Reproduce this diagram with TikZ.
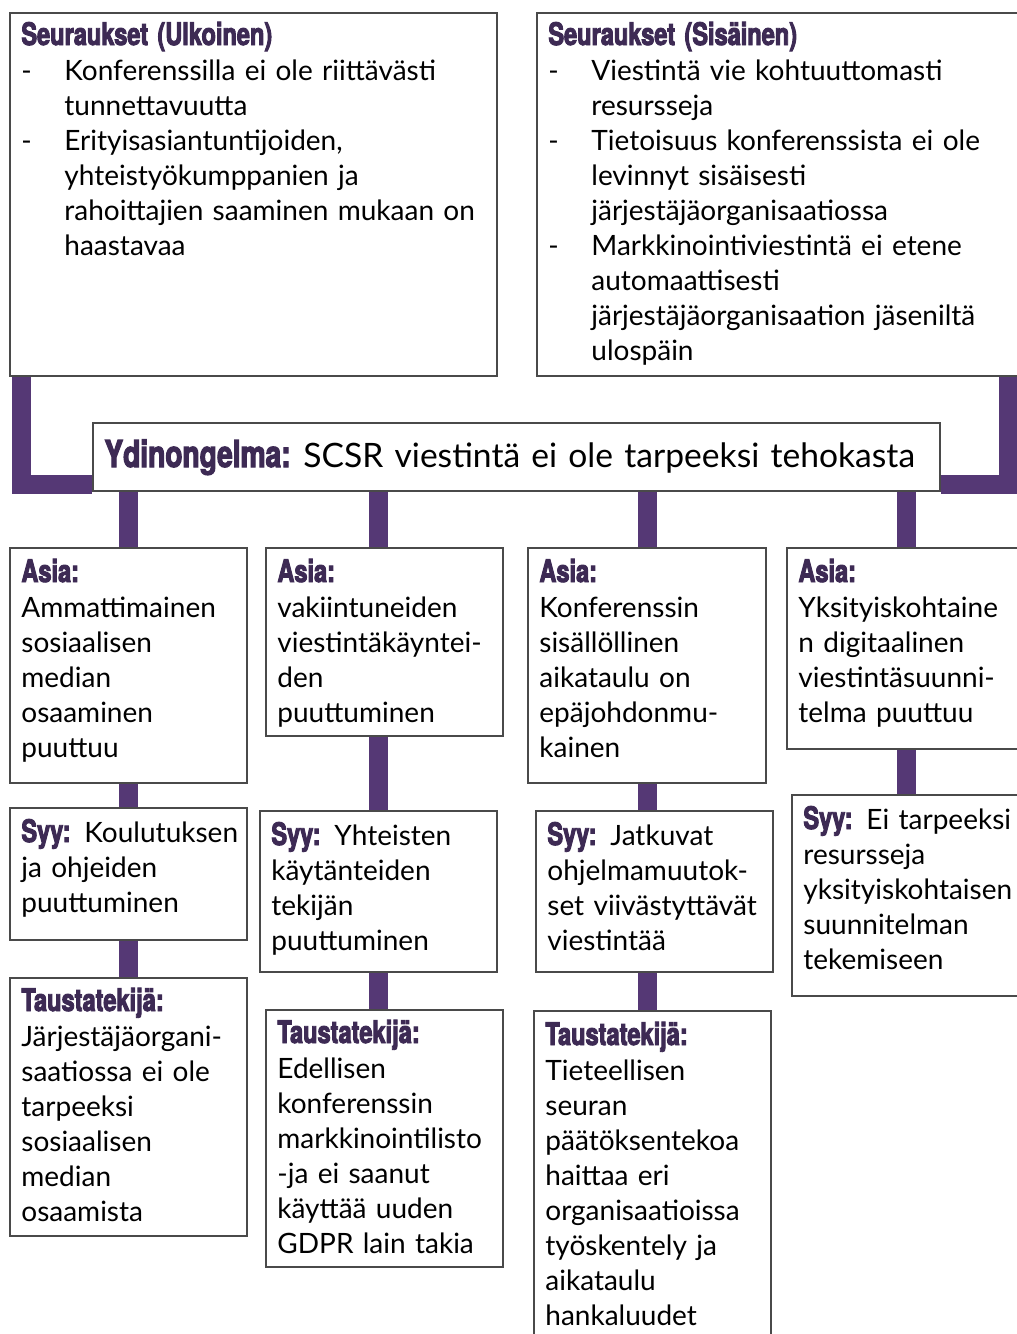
\documentclass[tikz,border=0pt]{standalone}
\usepackage{fontspec}
\setmainfont{Lato}
\newfontfamily\headfont[FakeStretch=0.76,BoldFeatures={FakeBold=3}]{TeX Gyre Heros}
\usetikzlibrary{fit,backgrounds}

\definecolor{linkpurple}{HTML}{553875}
\definecolor{headpurple}{HTML}{3D2A54}
\definecolor{boxgray}{HTML}{4A4A4A}

\newcommand{\hd}[1]{{\headfont\bfseries\fontsize{15.5}{17.5}\selectfont\color{headpurple}#1}}
\newcommand{\bul}{\makebox[21.5pt][l]{-}}
\newcommand{\ind}{\hspace*{21.5pt}}

\begin{document}
\begin{tikzpicture}[x=0.5pt,y=-0.5pt,
  box/.style={draw=boxgray, line width=1pt, fill=white, inner sep=0pt},
  txt/.style={anchor=base west, inner sep=0pt, text width=260pt, align=left,
    font=\fontsize{14}{17.5}\selectfont},
  link/.style={draw=linkpurple, line width=9.5pt}]
  \clip (0,0) rectangle (1017,1334);

  % seuraukset
  \node[box, fit={(10,13) (497,376)}] (u) {};
  \node[txt] at ([shift={(12,33)}]u.north west) {\hd{Seuraukset (Ulkoinen)}\\
    \bul Konferenssilla ei ole riittävästi\\
    \ind tunnettavuutta\\
    \bul Erityisasiantuntijoiden,\\
    \ind yhteistyökumppanien ja\\
    \ind rahoittajien saaminen mukaan on\\
    \ind haastavaa};
  \node[box, fit={(537,13) (1022,376)}] (s) {};
  \node[txt] at ([shift={(12,33)}]s.north west) {\hd{Seuraukset (Sisäinen)}\\
    \bul Viestintä vie kohtuuttomasti\\
    \ind resursseja\\
    \bul Tietoisuus konferenssista ei ole\\
    \ind levinnyt sisäisesti\\
    \ind järjestäjäorganisaatiossa\\
    \bul Markkinointiviestintä ei etene\\
    \ind automaattisesti\\
    \ind järjestäjäorganisaation jäseniltä\\
    \ind ulospäin};

  % ydinongelma
  \node[box, fit={(93,423) (940,491)}] (core) {};
  \node[txt, text width=440pt, font=\fontsize{16.8}{20}\selectfont]
    at ([shift={(12,45)}]core.north west)
    {{\headfont\bfseries\fontsize{18.5}{20}\selectfont\color{headpurple}Ydinongelma:}\hspace{-2pt}
     SCSR viestintä ei ole tarpeeksi tehokasta};

  % asiat
  \node[box, fit={(10,548) (247,783)}] (a1) {};
  \node[txt] at ([shift={(12,35)}]a1.north west) {\hd{Asia:}\\
    Ammattimainen\\ sosiaalisen\\ median\\ osaaminen\\ puuttuu};
  \node[box, fit={(266,548) (503,736)}] (a2) {};
  \node[txt] at ([shift={(12,35)}]a2.north west) {\hd{Asia:}\\
    vakiintuneiden\\ viestintäkäyntei-\\ den\\ puuttuminen};
  \node[box, fit={(528,548) (766,783)}] (a3) {};
  \node[txt] at ([shift={(12,35)}]a3.north west) {\hd{Asia:}\\
    Konferenssin\\ sisällöllinen\\ aikataulu on\\ epäjohdonmu-\\ kainen};
  \node[box, fit={(787,548) (1022,749)}] (a4) {};
  \node[txt] at ([shift={(12,35)}]a4.north west) {\hd{Asia:}\\
    Yksityiskohtaine\\ n digitaalinen\\ viestintäsuunni-\\ telma puuttuu};

  % syyt
  \node[box, fit={(10,808) (247,940)}] (y1) {};
  \node[txt] at ([shift={(12,35)}]y1.north west) {\hd{Syy:} Koulutuksen\\
    ja ohjeiden\\ puuttuminen};
  \node[box, fit={(260,811) (497,972)}] (y2) {};
  \node[txt] at ([shift={(12,35)}]y2.north west) {\hd{Syy:} Yhteisten\\
    käytänteiden\\ tekijän\\ puuttuminen};
  \node[box, fit={(536,811) (773,972)}] (y3) {};
  \node[txt] at ([shift={(12,35)}]y3.north west) {\hd{Syy:} Jatkuvat\\
    ohjelmamuutok-\\ set viivästyttävät\\ viestintää};
  \node[box, fit={(792,795) (1022,996)}] (y4) {};
  \node[txt] at ([shift={(12,35)}]y4.north west) {\hd{Syy:} Ei tarpeeksi\\
    resursseja\\ yksityiskohtaisen\\ suunnitelman\\ tekemiseen};

  % taustatekijat
  \node[box, fit={(10,978) (247,1236)}] (t1) {};
  \node[txt] at ([shift={(12,34)}]t1.north west) {\hd{Taustatekijä:}\\
    Järjestäjäorgani-\\ saatiossa ei ole\\ tarpeeksi\\ sosiaalisen\\ median\\ osaamista};
  \node[box, fit={(266,1010) (503,1267)}] (t2) {};
  \node[txt] at ([shift={(12,34)}]t2.north west) {\hd{Taustatekijä:}\\
    Edellisen\\ konferenssin\\ markkinointilisto\\ -ja ei saanut\\ käyttää uuden\\ GDPR lain takia};
  \node[box, fit={(534,1011) (771,1345)}] (t3) {};
  \node[txt] at ([shift={(12,35)}]t3.north west) {\hd{Taustatekijä:}\\
    Tieteellisen\\ seuran\\ päätöksentekoa\\ haittaa eri\\ organisaatioissa\\ työskentely ja\\ aikataulu\\ hankaluudet};

  % connectors
  \begin{scope}[on background layer]
    \coordinate (ul) at (21,376);
    \coordinate (ur) at (1008,376);
    \coordinate (col1) at (128,0);
    \coordinate (col2) at (378,0);
    \coordinate (col3) at (647,0);
    \coordinate (col4) at (906,0);
    \draw[link] (ul) |- (core.west |- 0,484);
    \draw[link] (ur) |- (core.east |- 0,484);
    \foreach \i in {1,...,4} {
      \draw[link] (core.south -| col\i) -- (a\i.north -| col\i);
      \draw[link] (a\i.south -| col\i) -- (y\i.north -| col\i);
    }
    \foreach \i in {1,...,3}
      \draw[link] (y\i.south -| col\i) -- (t\i.north -| col\i);
  \end{scope}
\end{tikzpicture}
\end{document}
